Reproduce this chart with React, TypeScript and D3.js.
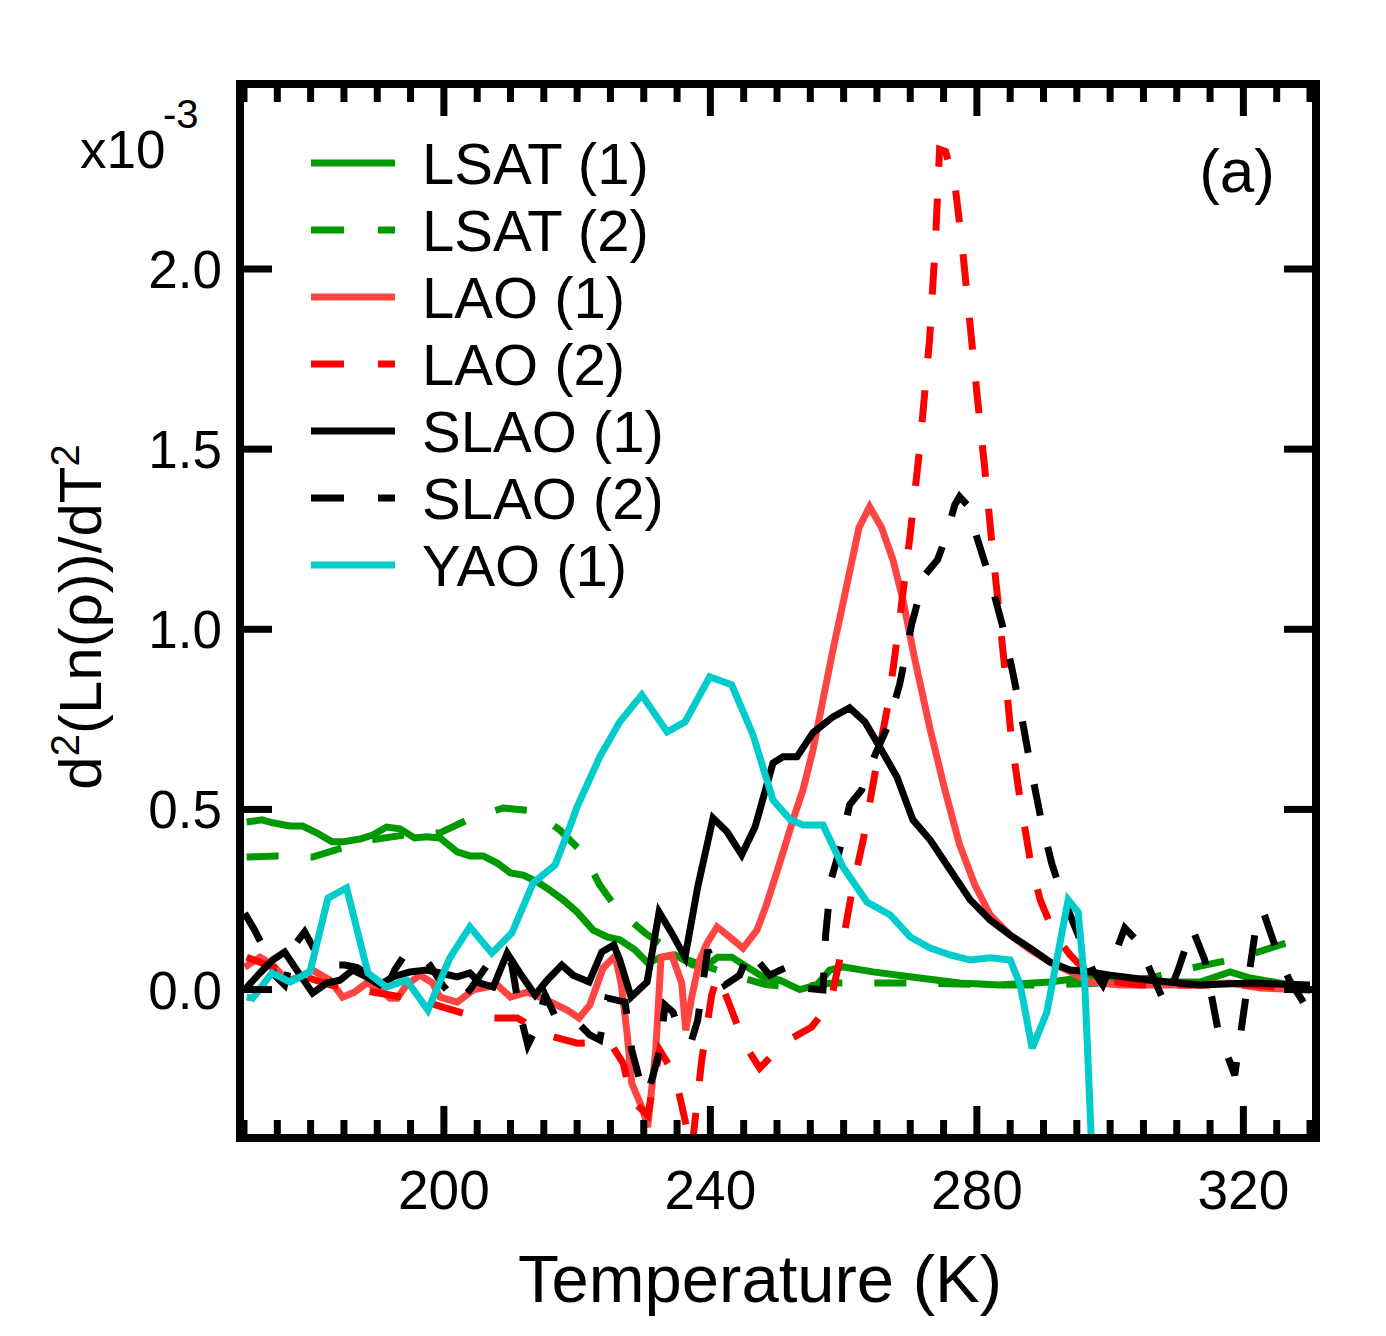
import React from "react";
import * as d3 from "d3";

type P = [number, number];

// Temperature (K), d2(Ln(rho))/dT2 (x1e-3)
const LSAT1: P[] = [
  [170.4, 0.465], [172.7, 0.471], [174.3, 0.463], [176.9, 0.454], [178.8, 0.454], [180.9, 0.435],
  [183.2, 0.41], [184.8, 0.41], [187.4, 0.418], [189.3, 0.429], [191.4, 0.451], [193.4, 0.446],
  [195.6, 0.421], [197.4, 0.424], [199.4, 0.421], [202.0, 0.382], [203.9, 0.371], [205.9, 0.371],
  [208.0, 0.351], [210.0, 0.324], [211.9, 0.318], [214.0, 0.299], [215.9, 0.276], [217.9, 0.249],
  [220.0, 0.215], [222.4, 0.165], [224.5, 0.146], [226.4, 0.138], [228.7, 0.11], [230.6, 0.074],
  [232.4, 0.088], [234.7, 0.096], [237.4, 0.068], [239.5, 0.068], [241.1, 0.09], [243.2, 0.09],
  [245.5, 0.063], [247.9, 0.035], [250.4, 0.026], [253.4, 0.0], [256.0, 0.013], [257.9, 0.054],
  [259.9, 0.063], [264.4, 0.049], [271.4, 0.032], [277.4, 0.018], [283.4, 0.013], [291.0, 0.021],
  [295.5, 0.032], [301.5, 0.026], [305.9, 0.021], [313.5, 0.021], [318.0, 0.049], [321.0, 0.032],
  [325.5, 0.018], [330.0, 0.0],
];

const LSAT2: P[] = [
  [170.4, 0.368], [175.1, 0.371], [180.3, 0.368], [184.7, 0.393], [188.9, 0.415], [194.1, 0.429],
  [199.4, 0.435], [203.9, 0.474], [208.9, 0.504], [213.4, 0.496], [217.4, 0.443], [220.9, 0.379],
  [223.4, 0.29], [226.1, 0.221], [230.2, 0.157], [235.4, 0.09], [243.2, 0.04], [248.5, 0.013],
  [253.4, 0.007], [258.4, 0.018], [262.9, 0.018], [271.4, 0.018], [283.4, 0.013], [291.0, 0.013],
  [298.5, 0.018], [306.0, 0.032], [313.5, 0.065], [319.5, 0.088], [325.5, 0.124], [330.5, 0.15],
];

const LAO1: P[] = [
  [170.1, 0.062], [172.4, 0.09], [174.3, 0.068], [176.4, 0.026], [178.1, 0.032], [180.3, 0.054],
  [182.9, 0.026], [184.8, -0.021], [186.6, -0.007], [188.4, 0.018], [190.4, 0.004], [191.9, -0.024],
  [193.0, -0.024], [194.4, 0.013], [196.4, 0.04], [198.3, 0.018], [199.4, -0.021], [202.0, -0.035],
  [204.4, -0.001], [206.5, 0.007], [208.0, 0.013], [210.0, -0.021], [212.5, -0.007], [214.4, -0.021],
  [216.4, -0.038], [218.5, -0.057], [220.3, -0.079], [221.9, -0.043], [223.9, 0.06], [225.7, 0.093],
  [226.6, 0.018], [227.5, -0.121], [228.2, -0.26], [229.9, -0.335], [230.6, -0.382], [231.8, -0.168],
  [232.6, 0.09], [234.2, 0.096], [235.7, 0.018], [236.3, -0.113], [237.2, -0.021], [238.4, 0.082],
  [239.5, 0.129], [241.0, 0.174], [242.9, 0.146], [244.9, 0.115], [247.0, 0.165], [248.5, 0.24],
  [250.4, 0.351], [252.4, 0.471], [253.9, 0.554], [255.4, 0.665], [256.9, 0.804], [258.4, 0.943],
  [260.3, 1.107], [262.3, 1.282], [263.9, 1.34], [265.7, 1.282], [267.4, 1.193], [268.9, 1.082],
  [270.7, 0.915], [273.0, 0.721], [275.2, 0.554], [277.4, 0.402], [279.7, 0.29], [282.0, 0.207],
  [285.0, 0.151], [288.0, 0.11], [291.0, 0.076], [294.0, 0.049], [297.0, 0.021], [301.5, 0.013],
  [307.5, 0.013], [313.5, 0.013], [318.0, 0.018], [322.5, 0.004], [330.0, -0.001],
];

const LAO2: P[] = [
  [170.4, 0.09], [174.3, 0.062], [178.4, 0.04], [182.9, 0.013], [187.4, -0.001], [191.9, -0.015],
  [196.4, -0.029], [200.2, -0.051], [203.9, -0.071], [206.9, -0.079], [211.0, -0.079], [215.5, -0.126],
  [220.0, -0.149], [224.9, -0.146], [226.9, -0.204], [228.2, -0.307], [230.6, -0.349], [232.4, -0.168],
  [234.7, -0.238], [237.2, -0.446], [238.7, -0.196], [240.2, -0.015], [241.1, 0.04], [242.6, -0.029],
  [245.2, -0.154], [247.4, -0.218], [251.2, -0.146], [255.2, -0.104], [258.0, -0.038], [259.4, 0.082],
  [261.2, 0.268], [263.0, 0.421], [264.8, 0.61], [266.8, 0.804], [268.4, 1.026], [269.9, 1.249],
  [271.4, 1.499], [272.9, 1.804], [273.8, 2.082], [274.4, 2.332], [275.3, 2.326], [276.7, 2.235],
  [277.7, 2.082], [278.9, 1.86], [280.1, 1.638], [281.2, 1.443], [282.2, 1.249], [283.3, 1.054],
  [284.2, 0.887], [285.2, 0.693], [286.5, 0.526], [288.0, 0.36], [289.5, 0.249], [291.7, 0.151],
  [294.0, 0.096], [296.2, 0.054], [298.5, 0.026], [304.5, 0.013], [313.5, 0.013], [321.0, 0.013],
  [330.0, -0.001],
];

const SLAO1: P[] = [
  [170.1, 0.0], [172.4, 0.046], [174.3, 0.082], [176.1, 0.104], [178.1, 0.049], [180.3, -0.01],
  [182.4, 0.018], [184.4, 0.026], [186.3, 0.054], [188.4, 0.035], [190.4, 0.013], [192.3, 0.035],
  [194.9, 0.049], [197.4, 0.054], [199.4, 0.046], [202.0, 0.035], [203.9, 0.046], [205.4, 0.018],
  [207.4, 0.007], [209.5, 0.101], [211.4, 0.046], [213.7, -0.015], [215.5, 0.026], [217.7, 0.068],
  [219.4, 0.04], [221.8, 0.021], [223.7, 0.104], [225.5, 0.124], [226.4, 0.082], [228.1, -0.021],
  [230.5, 0.021], [232.3, 0.215], [234.1, 0.16], [236.2, 0.09], [238.1, 0.285], [240.4, 0.476],
  [242.5, 0.438], [244.7, 0.374], [246.7, 0.451], [249.4, 0.629], [250.9, 0.646], [253.0, 0.646],
  [255.4, 0.713], [258.4, 0.757], [260.9, 0.782], [263.2, 0.743], [265.4, 0.674], [268.0, 0.59],
  [270.4, 0.471], [273.0, 0.415], [276.0, 0.332], [279.0, 0.249], [282.0, 0.193], [285.0, 0.151],
  [288.0, 0.115], [291.0, 0.076], [294.0, 0.054], [297.0, 0.049], [300.0, 0.04], [306.0, 0.026],
  [313.5, 0.013], [321.0, 0.018], [330.0, 0.013],
];

const SLAO2: P[] = [
  [170.1, 0.212], [171.6, 0.165], [173.1, 0.11], [174.6, 0.04], [176.1, 0.013], [177.6, 0.124],
  [179.1, 0.16], [180.6, 0.11], [182.9, 0.068], [185.1, 0.068], [186.9, 0.062], [188.9, 0.04],
  [191.1, -0.01], [192.6, 0.054], [194.1, 0.096], [196.4, 0.101], [197.9, 0.068], [199.8, 0.013],
  [202.1, -0.038], [203.9, -0.001], [206.5, 0.068], [208.0, 0.082], [209.5, 0.096], [210.2, 0.068],
  [211.4, -0.065], [212.6, -0.154], [213.7, -0.113], [215.2, -0.015], [217.0, -0.085], [220.0, -0.09],
  [221.9, -0.126], [223.4, -0.14], [224.6, -0.024], [227.2, -0.035], [228.2, -0.168], [229.4, -0.251],
  [230.5, -0.293], [231.4, -0.238], [232.4, -0.168], [233.2, -0.043], [234.4, -0.063], [235.7, -0.132],
  [237.2, -0.14], [238.1, -0.085], [238.9, 0.021], [239.6, 0.11], [240.7, 0.068], [242.2, 0.013],
  [244.4, 0.04], [245.9, 0.11], [247.0, 0.082], [248.9, 0.04], [251.2, 0.06], [254.2, 0.004],
  [256.9, -0.001], [257.3, 0.151], [258.1, 0.304], [259.4, 0.388], [260.9, 0.513], [262.7, 0.554],
  [264.7, 0.651], [266.5, 0.726], [268.4, 0.846], [270.2, 1.013], [272.2, 1.151], [274.1, 1.193],
  [275.2, 1.249], [276.7, 1.346], [277.4, 1.368], [278.5, 1.346], [280.1, 1.249], [282.0, 1.138],
  [283.8, 1.013], [285.3, 0.888], [286.8, 0.749], [288.3, 0.596], [289.8, 0.457], [291.3, 0.346],
  [292.8, 0.263], [294.3, 0.193], [295.8, 0.124], [297.4, 0.054], [298.9, 0.013], [300.4, 0.082],
  [302.2, 0.171], [304.2, 0.132], [306.0, 0.054], [308.2, -0.038], [310.2, 0.054], [312.3, 0.171],
  [314.2, 0.082], [316.2, -0.113], [318.7, -0.238], [320.2, -0.043], [321.7, 0.151], [322.9, 0.221],
  [324.7, 0.124], [326.9, 0.026], [328.8, -0.029], [330.3, -0.085],
];

const YAO1: P[] = [
  [170.4, -0.021], [171.3, -0.024], [174.2, 0.046], [176.9, 0.021], [179.9, 0.049], [182.6, 0.254],
  [185.4, 0.282], [188.6, 0.046], [191.4, 0.007], [194.4, 0.026], [197.6, -0.057], [200.9, 0.088],
  [203.9, 0.174], [207.2, 0.101], [210.2, 0.157], [213.4, 0.296], [216.7, 0.346], [218.9, 0.451],
  [220.0, 0.507], [223.4, 0.646], [226.4, 0.743], [229.7, 0.818], [233.5, 0.715], [236.2, 0.743],
  [239.9, 0.868], [243.2, 0.846], [246.4, 0.707], [249.4, 0.526], [252.0, 0.471], [253.9, 0.457],
  [256.9, 0.457], [259.9, 0.34], [263.5, 0.243], [267.0, 0.207], [270.0, 0.146], [273.0, 0.115],
  [276.0, 0.096], [279.0, 0.082], [282.0, 0.088], [285.0, 0.082], [286.5, 0.013], [288.3, -0.163],
  [290.5, -0.063], [293.7, 0.249], [295.2, 0.215], [296.2, 0.013], [297.3, -0.474],
];

const SERIES_NAMES = ["LSAT (1)", "LSAT (2)", "LAO (1)", "LAO (2)", "SLAO (1)", "SLAO (2)", "YAO (1)"];
const SERIES_DATA = [LSAT1, LSAT2, LAO1, LAO2, SLAO1, SLAO2, YAO1];
const SERIES_COLORS = ["#009900", "#009900", "#ff4444", "#ff0000", "#000000", "#000000", "#00cccc"];
const SERIES_DASHED = [false, true, false, true, false, true, false];

const X_MAJOR = [200, 240, 280, 320];
const X_MINOR = d3.range(170, 331, 5);
const Y_MAJOR = [0, 0.5, 1.0, 1.5, 2.0];

const W = 1386;
const H = 1336;
const L = 240;
const R = 1316;
const TOP = 84;
const BOT = 1138;
const FONT = "'Liberation Sans', Arial, Helvetica, sans-serif";

export default function App() {
  const x = d3.scaleLinear().domain([169.4, 330.9]).range([L, R]);
  const y = d3.scaleLinear().domain([-0.412, 2.5135]).range([BOT, TOP]);
  const line = d3
    .line<P>()
    .x((d) => x(d[0]))
    .y((d) => y(d[1]));

  const dash = "32 32";
  const lw = 7;
  const legendY0 = 163;
  const legendDy = 67;

  return (
    <svg
      width={W}
      height={H}
      viewBox={`0 0 ${W} ${H}`}
      style={{ position: "absolute", left: 0, top: 0, background: "#fff" }}
    >
      <defs>
        <clipPath id="plotclip">
          <rect x={L} y={TOP} width={R - L} height={BOT - TOP} />
        </clipPath>
      </defs>
      <rect x={0} y={0} width={W} height={H} fill="#fff" />

      {/* data */}
      <g clipPath="url(#plotclip)" fill="none" strokeLinejoin="miter" strokeMiterlimit={3} strokeLinecap="butt">
        {SERIES_DATA.map((d, i) => (
          <path
            key={i}
            d={line(d) || ""}
            stroke={SERIES_COLORS[i]}
            strokeWidth={lw}
            strokeDasharray={SERIES_DASHED[i] ? dash : undefined}
          />
        ))}
      </g>

      {/* ticks */}
      <g stroke="#000" strokeWidth={7}>
        {X_MINOR.filter((t) => !X_MAJOR.includes(t)).map((t) => (
          <g key={"xm" + t}>
            <line x1={x(t)} x2={x(t)} y1={BOT} y2={BOT - 18} />
            <line x1={x(t)} x2={x(t)} y1={TOP} y2={TOP + 18} />
          </g>
        ))}
        {X_MAJOR.map((t) => (
          <g key={"xM" + t}>
            <line x1={x(t)} x2={x(t)} y1={BOT} y2={BOT - 32} />
            <line x1={x(t)} x2={x(t)} y1={TOP} y2={TOP + 32} />
          </g>
        ))}
        {Y_MAJOR.map((v) => (
          <g key={"yM" + v}>
            <line x1={L} x2={L + 32} y1={y(v)} y2={y(v)} />
            <line x1={R} x2={R - 32} y1={y(v)} y2={y(v)} />
          </g>
        ))}
      </g>

      {/* frame */}
      <rect x={L} y={TOP} width={R - L} height={BOT - TOP} fill="none" stroke="#000" strokeWidth={8} />

      {/* tick labels */}
      <g fontFamily={FONT} fill="#000">
        {Y_MAJOR.map((v) => (
          <text key={"yl" + v} x={222} y={y(v) + 19} fontSize={53} textAnchor="end">
            {d3.format(".1f")(v)}
          </text>
        ))}
        {X_MAJOR.map((t) => (
          <text key={"xl" + t} x={x(t)} y={1209} fontSize={55} textAnchor="middle">
            {t}
          </text>
        ))}
        <text x={80} y={168} fontSize={53}>
          x10
        </text>
        <text x={163} y={128} fontSize={40}>
          -3
        </text>
        <text x={1275} y={192} fontSize={62} textAnchor="end">
          (a)
        </text>
        <text x={760} y={1302} fontSize={67} textAnchor="middle">
          Temperature (K)
        </text>
        <text transform={`translate(101, 617) rotate(-90)`} fontSize={60} textAnchor="middle">
          d<tspan fontSize={40} dy={-22}>2</tspan>
          <tspan dy={22}>(Ln(ρ))/dT</tspan>
          <tspan fontSize={40} dy={-22}>2</tspan>
        </text>
      </g>

      {/* legend */}
      <g fontFamily={FONT}>
        {SERIES_NAMES.map((name, i) => (
          <g key={name}>
            <line
              x1={311}
              x2={395}
              y1={legendY0 + i * legendDy}
              y2={legendY0 + i * legendDy}
              stroke={SERIES_COLORS[i]}
              strokeWidth={7}
              strokeDasharray={SERIES_DASHED[i] ? "33 34" : undefined}
            />
            <text x={422} y={legendY0 + i * legendDy + 21} fontSize={58} fill="#000">
              {name}
            </text>
          </g>
        ))}
      </g>
    </svg>
  );
}
